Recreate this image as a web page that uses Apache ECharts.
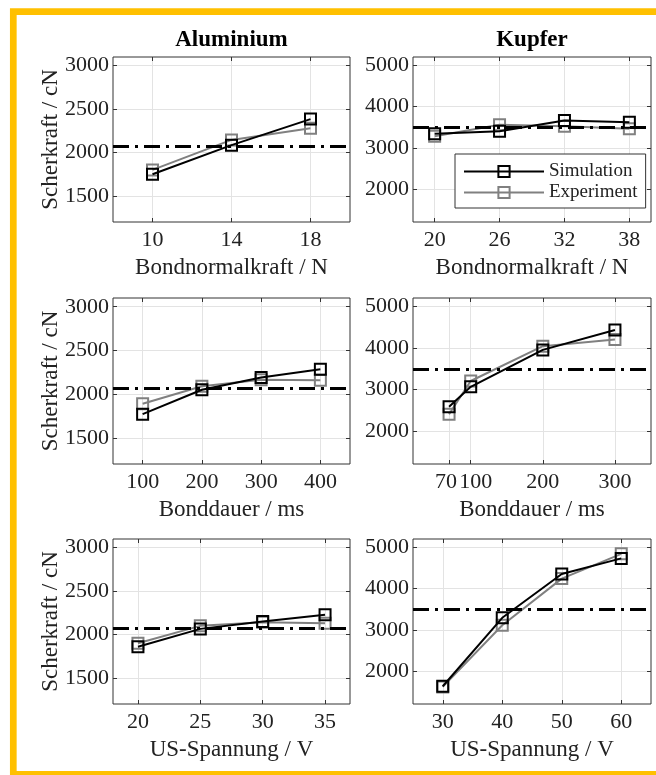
<!DOCTYPE html>
<html><head><meta charset="utf-8">
<script src="https://cdn.jsdelivr.net/npm/echarts@6/dist/echarts.min.js"></script>
<style>html,body{margin:0;padding:0;background:#fff}#c{width:656px;height:775px}</style>
</head><body><div id="c"></div>
<script>
// ---- data ----
const colTitles = ['Aluminium', 'Kupfer'];
const xNames = ['Bondnormalkraft / N', 'Bonddauer / ms', 'US-Spannung / V'];
const yName = 'Scherkraft / cN';
const seriesNames = ['Simulation', 'Experiment'];

const alForceX = [10, 14, 18];
const alForceSim = [1750, 2085, 2385];
const alForceExp = [1800, 2145, 2280];

const cuForceX = [20, 26, 32, 38];
const cuForceSim = [3340, 3400, 3660, 3620];
const cuForceExp = [3280, 3560, 3520, 3460];

const alTimeX = [100, 200, 300, 400];
const alTimeSim = [1770, 2050, 2190, 2285];
const alTimeExp = [1890, 2090, 2165, 2160];

const cuTimeX = [70, 100, 200, 300];
const cuTimeSim = [2580, 3060, 3950, 4430];
const cuTimeExp = [2400, 3200, 4040, 4200];

const alVoltX = [20, 25, 30, 35];
const alVoltSim = [1860, 2065, 2150, 2228];
const alVoltExp = [1900, 2100, 2140, 2130];

const cuVoltX = [30, 40, 50, 60];
const cuVoltSim = [1630, 3290, 4350, 4730];
const cuVoltExp = [1615, 3110, 4240, 4840];

const yTicksAl = [1500, 2000, 2500, 3000];
const yTicksCu = [2000, 3000, 4000, 5000];
const refAl = 2070;
const refCu = 3490;

// ---- layout / styling ----
const FONT = "'Liberation Serif', 'Times New Roman', serif";
const TXT = '#222';
const BORDER = '#333';
const GRIDC = '#e3e3e3';
const plain = v => String(v);

const panels = [
  {row:0, col:0, x:alForceX, sim:alForceSim, exp:alForceExp, xr:[8,20],   yt:yTicksAl, yr:[1200,3100], ref:refAl},
  {row:0, col:1, x:cuForceX, sim:cuForceSim, exp:cuForceExp, xr:[18,40],  yt:yTicksCu, yr:[1200,5200], ref:refCu},
  {row:1, col:0, x:alTimeX,  sim:alTimeSim,  exp:alTimeExp,  xr:[50,450], yt:yTicksAl, yr:[1200,3100], ref:refAl},
  {row:1, col:1, x:cuTimeX,  sim:cuTimeSim,  exp:cuTimeExp,  xr:[20,350], yt:yTicksCu, yr:[1200,5200], ref:refCu, crowded:true},
  {row:2, col:0, x:alVoltX,  sim:alVoltSim,  exp:alVoltExp,  xr:[18,37],  yt:yTicksAl, yr:[1200,3100], ref:refAl},
  {row:2, col:1, x:cuVoltX,  sim:cuVoltSim,  exp:cuVoltExp,  xr:[25,65],  yt:yTicksCu, yr:[1200,5200], ref:refCu}
];
const gLeft = [113, 413], gWidth = [237, 238];
const gTop = [57, 298, 539], gHeight = [165, 166, 165];

function xLabelConf(p) {
  const base = {formatter:plain, hideOverlap:false, margin:7, fontFamily:FONT, fontSize:22, color:TXT};
  if (!p.crowded) return Object.assign({customValues:p.x}, base);
  // two close ticks: nudge their labels apart (as in the original) and keep both visible
  const vals = p.x.slice(2).concat(p.x.slice(0, 2));
  return Object.assign({}, base, {
    customValues: [vals[0], p.x[0], p.x[1]].concat(p.x.slice(3)),
    formatter: v => v === p.x[0] ? '{l|' + v + '}' : (v === p.x[1] ? '{r|' + v + '}' : String(v)),
    rich: {
      l: {padding:[0,6,0,0], fontFamily:FONT, fontSize:22, color:TXT},
      r: {padding:[0,0,0,10], fontFamily:FONT, fontSize:22, color:TXT}
    }
  });
}

const grid = [], xAxis = [], yAxis = [], series = [];
panels.forEach((p, i) => {
  grid.push({left:gLeft[p.col], top:gTop[p.row], width:gWidth[p.col], height:gHeight[p.row],
    show:true, borderColor:BORDER, borderWidth:1, backgroundColor:'#fff'});
  const tick = {show:true, inside:true, length:4, lineStyle:{color:BORDER, width:1}};
  xAxis.push({type:'value', gridIndex:i, position:'bottom', min:p.xr[0], max:p.xr[1],
    axisLine:{show:false},
    axisTick:Object.assign({customValues:p.x}, tick),
    axisLabel:xLabelConf(p),
    splitLine:{show:true, lineStyle:{color:GRIDC, width:1}},
    name:xNames[p.row], nameLocation:'middle', nameGap:34, nameMoveOverlap:false,
    nameTextStyle:{fontFamily:FONT, fontSize:23, color:TXT}});
  xAxis.push({type:'value', gridIndex:i, position:'top', min:p.xr[0], max:p.xr[1],
    axisLine:{show:false},
    axisTick:Object.assign({customValues:p.x}, tick),
    axisLabel:{show:false}, splitLine:{show:false},
    name:p.row === 0 ? colTitles[p.col] : '', nameLocation:'middle', nameGap:5, nameMoveOverlap:false,
    nameTextStyle:{fontFamily:FONT, fontSize:23, fontWeight:'bold', color:'#000'}});
  yAxis.push({type:'value', gridIndex:i, position:'left', min:p.yr[0], max:p.yr[1],
    axisLine:{show:false},
    axisTick:Object.assign({customValues:p.yt}, tick),
    axisLabel:{customValues:p.yt, formatter:plain, hideOverlap:false, margin:4,
      fontFamily:FONT, fontSize:22, color:TXT},
    splitLine:{show:true, lineStyle:{color:GRIDC, width:1}},
    name:p.col === 0 ? yName : '', nameLocation:'middle', nameGap:51, nameRotate:90, nameMoveOverlap:false,
    nameTextStyle:{fontFamily:FONT, fontSize:23, color:TXT}});
  yAxis.push({type:'value', gridIndex:i, position:'right', min:p.yr[0], max:p.yr[1],
    axisLine:{show:false},
    axisTick:Object.assign({customValues:p.yt}, tick),
    axisLabel:{show:false}, splitLine:{show:false}});

  series.push({name:seriesNames[1], type:'line', xAxisIndex:2*i, yAxisIndex:2*i,
    data:p.x.map((v, k) => [v, p.exp[k]]),
    symbol:'rect', symbolSize:11, z:2,
    lineStyle:{color:'#808080', width:2},
    itemStyle:{color:'rgba(255,255,255,0)', borderColor:'#808080', borderWidth:2},
    emphasis:{disabled:true},
    markLine:{silent:true, symbol:['none','none'], label:{show:false},
      lineStyle:{color:'#000', width:3, type:[16,6,3,6]},
      emphasis:{disabled:true},
      data:[{yAxis:p.ref}]}});
  series.push({name:seriesNames[0], type:'line', xAxisIndex:2*i, yAxisIndex:2*i,
    data:p.x.map((v, k) => [v, p.sim[k]]),
    symbol:'rect', symbolSize:11, z:3,
    lineStyle:{color:'#000', width:2},
    itemStyle:{color:'rgba(255,255,255,0)', borderColor:'#000', borderWidth:2},
    emphasis:{disabled:true}});
});

const chart = echarts.init(document.getElementById('c'), null, {renderer:'canvas'});
chart.setOption({
  animation:false,
  backgroundColor:'#fff',
  textStyle:{fontFamily:FONT},
  grid, xAxis, yAxis, series,
  legend:{data:seriesNames, orient:'vertical', left:455, top:154, z:10,
    backgroundColor:'#fff', borderColor:BORDER, borderWidth:1, borderRadius:0,
    padding:[8,8,6,8], itemWidth:80, itemHeight:14, itemGap:2,
    textStyle:{fontFamily:FONT, fontSize:19, color:TXT}},
  graphic:[{type:'rect', silent:true, z:100,
    shape:{x:13.3, y:11.7, width:700, height:762.7},
    style:{fill:'none', stroke:'#FFC000', lineWidth:6.7}}]
});
</script>
</body></html>
